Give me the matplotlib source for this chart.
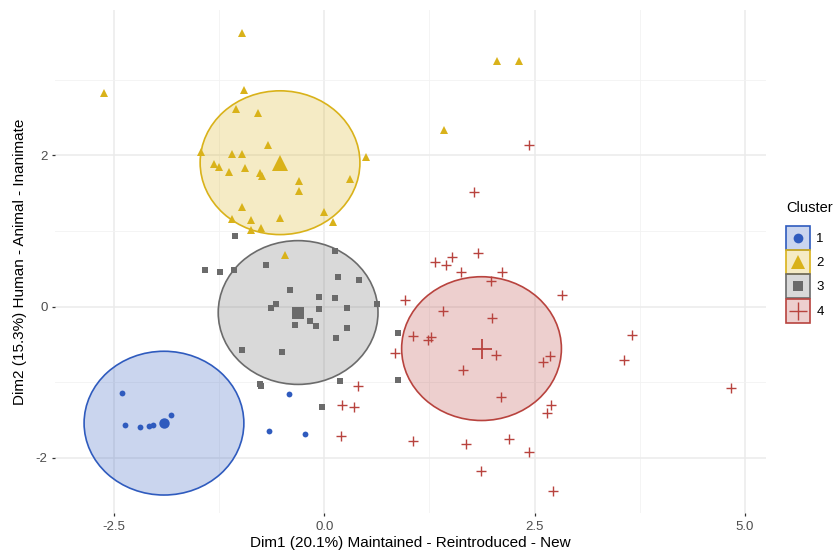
#!/usr/bin/env python3

import matplotlib
matplotlib.use("Agg")
import matplotlib.pyplot as plt
from matplotlib.patches import Ellipse, Rectangle
from matplotlib.lines import Line2D
from matplotlib.legend_handler import HandlerBase

plt.rcParams['font.family'] = ['Liberation Sans', 'DejaVu Sans']
plt.rcParams['axes.unicode_minus'] = False

# cluster 1 (blue dots)
c1_x = [-2.41, -2.365, -2.193, -2.086, -2.043, -1.82, -0.426, -0.656, -0.231]
c1_y = [-1.14, -1.566, -1.593, -1.580, -1.559, -1.426, -1.149, -1.642, -1.677]

# cluster 2 (yellow triangles)
c2_x = [-0.977, -2.619, -0.954, -1.045, -0.787, -0.676, -1.466, -1.101, -0.982,
        -1.308, -1.251, -0.946, -1.137, -0.771, -0.739, -0.306, -0.303, -0.977,
        -0.524, -1.097, -0.878, -0.759, -0.878, 2.054, 2.319, 1.425, 0.492,
        0.305, -0.005, 0.099, -0.473]
c2_y = [3.615, 2.826, 2.862, 2.615, 2.553, 2.139, 2.046, 2.020, 2.011,
        1.884, 1.839, 1.826, 1.778, 1.769, 1.725, 1.663, 1.527, 1.319,
        1.174, 1.161, 1.151, 1.042, 1.006, 3.249, 3.249, 2.337, 1.971,
        1.685, 1.253, 1.121, 0.685]

# cluster 3 (grey squares)
c3_x = [-1.066, 0.123, -1.415, -1.240, -1.077, -0.688, 0.167, 0.417, -0.410,
        -0.064, 0.123, -0.580, -0.632, -0.064, 0.274, 0.632, -0.167, -0.104,
        -0.350, 0.269, 0.138, -0.977, -0.505, -0.771, -0.751, 0.182, 0.877,
        0.877, -0.032]
c3_y = [0.936, 0.738, 0.490, 0.464, 0.482, 0.553, 0.390, 0.354, 0.222,
        0.126, 0.116, 0.033, -0.016, -0.033, -0.012, 0.033, -0.188, -0.250,
        -0.237, -0.289, -0.416, -0.567, -0.601, -1.024, -1.043, -0.977, -0.350,
        -0.972, -1.328]

# cluster 4 (red crosses)
c4_x = [1.318, 1.446, 1.514, 1.824, 1.628, 2.113, 1.982, 2.825, 0.961,
        1.410, 1.994, 1.056, 1.235, 1.271, 0.838, 2.038, 2.682, 2.598,
        1.645, 0.397, 0.210, 0.349, 2.101, 2.701, 2.653, 0.198, 1.049,
        1.684, 2.200, 2.439, 1.867, 2.713, 2.431, 1.783, 3.663, 3.559, 4.839]
c4_y = [0.592, 0.553, 0.662, 0.715, 0.464, 0.464, 0.337, 0.152, 0.086,
        -0.056, -0.157, -0.390, -0.435, -0.403, -0.611, -0.646, -0.650, -0.734,
        -0.835, -1.051, -1.302, -1.321, -1.192, -1.294, -1.400, -1.708, -1.778,
        -1.810, -1.751, -1.923, -2.167, -2.435, 2.130, 1.514, -0.377, -0.699, -1.073]

clusters = ['1', '2', '3', '4']
center_x = [-1.907, -0.527, -0.312, 1.869]
center_y = [-1.540, 1.902, -0.078, -0.555]
radius = [0.95, 0.95, 0.95, 0.95]

x_ticks = [-2.5, 0.0, 2.5, 5.0]
y_ticks = [-2, 0, 2]

colors = ['#2F5BBE', '#D9B21A', '#6B6B6B', '#B8433E']
markers = ['o', '^', 's', '+']
msizes = [4.2, 6.0, 4.8, 7.5]
center_sizes = [7.5, 11.5, 8.0, 14.0]
legend_sizes = [7.0, 10.5, 7.5, 13.0]

xs = [c1_x, c2_x, c3_x, c4_x]
ys = [c1_y, c2_y, c3_y, c4_y]


class KeyHandler(HandlerBase):
    """Filled square key with the cluster marker centred in it."""
    def create_artists(self, legend, orig_handle, xdescent, ydescent,
                       width, height, fontsize, trans):
        col = orig_handle.get_color()
        x0, y0 = -xdescent, -ydescent
        fill = Rectangle((x0, y0), width, height, facecolor=col, alpha=0.25,
                         edgecolor='none', transform=trans)
        edge = Rectangle((x0, y0), width, height, facecolor='none',
                         edgecolor=col, lw=1.2, transform=trans)
        mk = Line2D([x0 + width / 2], [y0 + height / 2], linestyle='None',
                    marker=orig_handle.get_marker(), ms=orig_handle.get_markersize(),
                    color=col, mew=orig_handle.get_markeredgewidth(), transform=trans)
        return [fill, edge, mk]


fig = plt.figure(figsize=(8.37, 5.56), dpi=100)
ax = fig.add_axes([0.066, 0.077, 0.849, 0.905])

for i in range(4):
    ax.add_patch(Ellipse((center_x[i], center_y[i]), 2 * radius[i], 2 * radius[i],
                         facecolor=colors[i], alpha=0.25, edgecolor='none', zorder=1))
    ax.add_patch(Ellipse((center_x[i], center_y[i]), 2 * radius[i], 2 * radius[i],
                         facecolor='none', edgecolor=colors[i], lw=1.2, zorder=2))

for i in range(4):
    mew = 1.0 if markers[i] == '+' else 0
    ax.plot(xs[i], ys[i], linestyle='None', marker=markers[i], ms=msizes[i],
            color=colors[i], mew=mew, zorder=3)
    ax.plot([center_x[i]], [center_y[i]], linestyle='None', marker=markers[i],
            ms=center_sizes[i], color=colors[i], mew=1.3 if markers[i] == '+' else 0,
            zorder=3)

ax.set_xlim(-3.2, 5.25)
ax.set_ylim(-2.73, 3.92)
ax.set_xticks(x_ticks)
ax.set_xticklabels([f"{t:.1f}" for t in x_ticks])
ax.set_yticks(y_ticks)
ax.set_yticklabels([str(t) for t in y_ticks])
ax.set_xticks([-1.25, 1.25, 3.75], minor=True)
ax.set_yticks([-1, 1, 3], minor=True)
ax.grid(True, which='major', color='#EBEBEB', lw=1.1, zorder=0)
ax.grid(True, which='minor', color='#F2F2F2', lw=0.6, zorder=0)
ax.set_axisbelow(True)
for s in ax.spines.values():
    s.set_visible(False)
ax.tick_params(which='major', length=2.5, width=0.9, color='#333333',
               labelcolor='#4D4D4D', labelsize=9.5, pad=3)
ax.tick_params(which='minor', length=0)

ax.set_xlabel("Dim1 (20.1%) Maintained - Reintroduced - New", fontsize=11, labelpad=2)
ax.set_ylabel("Dim2 (15.3%) Human - Animal - Inanimate", fontsize=11, labelpad=6)

handles = [Line2D([], [], linestyle='None', marker=markers[i], ms=legend_sizes[i],
                  color=colors[i], mew=1.0 if markers[i] == '+' else 0)
           for i in range(4)]
leg = ax.legend(handles, clusters, title='Cluster', loc='center left',
                bbox_to_anchor=(1.028, 0.5), frameon=False, fontsize=9.5,
                title_fontsize=10.5, handlelength=1.82, handleheight=2.42,
                labelspacing=0.02, handletextpad=0.5, borderaxespad=0,
                borderpad=0, handler_map={Line2D: KeyHandler()})
leg._legend_box.align = 'left'
leg._legend_box.sep = 8

fig.savefig('out.png', dpi=100)
